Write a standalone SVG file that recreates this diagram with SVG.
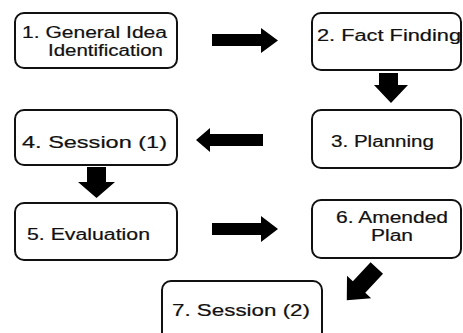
<svg xmlns="http://www.w3.org/2000/svg" width="463" height="333" viewBox="0 0 463 333">
<style>
.box{fill:#fff;stroke:#111;stroke-width:2}
.t{font-family:"Liberation Sans",Arial,sans-serif;font-size:16px;fill:#111;stroke:#111;stroke-width:0.2}
.arr{fill:#000}
</style>
<rect width="463" height="333" fill="#fff"/>
<g id="connectors">
<polygon class="arr" points="212,34 261,34 261,28 278,40.5 261,53 261,46 212,46"/>
<polygon class="arr" points="379,73 398,73 398,85 408,85 391,103 374,85 379,85"/>
<polygon class="arr" points="263,134 210,134 210,128 196,140 210,152 210,146 263,146"/>
<polygon class="arr" points="87,167 106,167 106,182 115,182 96.5,198 78,182 87,182"/>
<polygon class="arr" points="212,223 261,223 261,216 278,229 261,242 261,235 212,235"/>
<polygon class="arr" transform="translate(376.8,268) rotate(133)" points="0,-8.5 26,-8.5 26,-16.5 44,0 26,16.5 26,8.5 0,8.5"/>
</g>
<g id="n1"><rect class="box" x="15" y="13" width="162" height="55" rx="9"/>
<text class="t" x="22" y="38" textLength="145" lengthAdjust="spacingAndGlyphs">1. General Idea</text>
<text class="t" x="48" y="56" textLength="115" lengthAdjust="spacingAndGlyphs">Identification</text></g>
<g id="n2"><rect class="box" x="312" y="13" width="149" height="57" rx="9"/>
<text class="t" x="317" y="41" textLength="144" lengthAdjust="spacingAndGlyphs">2. Fact Finding</text></g>
<g id="n3"><rect class="box" x="312" y="110" width="149" height="58" rx="9"/>
<text class="t" x="331" y="147" textLength="103" lengthAdjust="spacingAndGlyphs">3. Planning</text></g>
<g id="n4"><rect class="box" x="15" y="110" width="162" height="55" rx="9"/>
<text class="t" x="22" y="148" textLength="145" lengthAdjust="spacingAndGlyphs">4. Session (1)</text></g>
<g id="n5"><rect class="box" x="15" y="203" width="162" height="57" rx="9"/>
<text class="t" x="27" y="240" textLength="123" lengthAdjust="spacingAndGlyphs">5. Evaluation</text></g>
<g id="n6"><rect class="box" x="312" y="200" width="149" height="58" rx="9"/>
<text class="t" x="336" y="223" textLength="112" lengthAdjust="spacingAndGlyphs">6. Amended</text>
<text class="t" x="371" y="241" textLength="42" lengthAdjust="spacingAndGlyphs">Plan</text></g>
<g id="n7"><rect class="box" x="162" y="281" width="160" height="60" rx="9"/>
<text class="t" x="172" y="316" textLength="138" lengthAdjust="spacingAndGlyphs">7. Session (2)</text></g>
</svg>
